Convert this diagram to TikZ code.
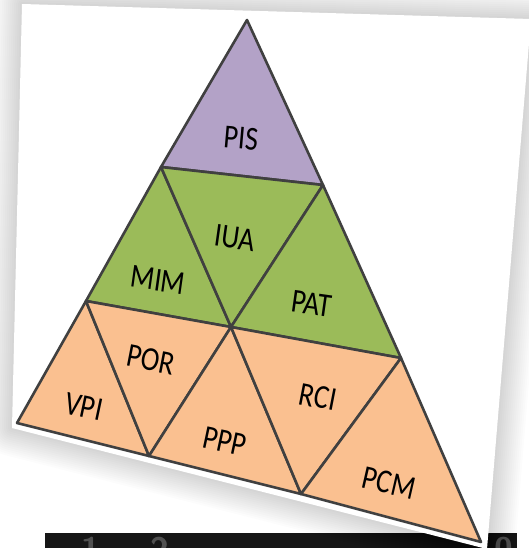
\documentclass[tikz,border=0pt]{standalone}
\usepackage{fontspec}
\setmainfont{Carlito}
\definecolor{lpurple}{HTML}{B3A2C7}
\definecolor{lgreen}{HTML}{9BBB59}
\definecolor{lorange}{HTML}{FAC090}
\definecolor{edgegray}{HTML}{404040}
\definecolor{barblack}{HTML}{161616}
\definecolor{digitgray}{HTML}{505050}
\begin{document}
\begin{tikzpicture}[x=1pt,y=-1pt,
  cell/.style={draw=edgegray,line width=2.6pt,line join=round},
  lbl/.style={font=\fontsize{28}{32}\selectfont,text=black,inner sep=0pt},
  digit/.style={font=\sffamily\bfseries\fontsize{34}{34}\selectfont,text=digitgray,inner sep=0pt,anchor=north}]
\useasboundingbox (0,0) rectangle (529,548);
\fill[white] (0,0) rectangle (529,548);
% black bar behind the sheet
\fill[barblack] (45,533) rectangle (517,548);
\begin{scope}
  \clip (45,533) rectangle (517,548);
  \node[digit] (d1) at (91,537) {1};
  \node[digit] (d2) at (160,537) {2};
  \node[digit] (d0) at (504,537) {0};
\end{scope}
% soft shadow of the sheet
\foreach \w in {4,8,...,56}{
  \draw[black,opacity=0.011,line width=\w pt,line join=round]
    (22,4) -- (531,19) -- (487,549) -- (12,428) -- cycle;
}
% sheet
\fill[white] (22,4) -- (531,19) -- (487,549) -- (12,428) -- cycle;
% triangle points
\coordinate (A)  at (247,20);
\coordinate (L1) at (161,167);
\coordinate (R1) at (323,185);
\coordinate (L2) at (86,301);
\coordinate (M2) at (231,327);
\coordinate (R2) at (401,358);
\coordinate (L3) at (17,423);
\coordinate (B1) at (149,456);
\coordinate (B2) at (301,494);
\coordinate (R3) at (481,542);
% cells
\filldraw[cell,fill=lpurple] (A) -- (L1) -- (R1) -- cycle;
\filldraw[cell,fill=lgreen] (L1) -- (L2) -- (M2) -- cycle;
\filldraw[cell,fill=lgreen] (L1) -- (R1) -- (M2) -- cycle;
\filldraw[cell,fill=lgreen] (R1) -- (M2) -- (R2) -- cycle;
\filldraw[cell,fill=lorange] (L2) -- (L3) -- (B1) -- cycle;
\filldraw[cell,fill=lorange] (L2) -- (M2) -- (B1) -- cycle;
\filldraw[cell,fill=lorange] (M2) -- (B1) -- (B2) -- cycle;
\filldraw[cell,fill=lorange] (M2) -- (R2) -- (B2) -- cycle;
\filldraw[cell,fill=lorange] (R2) -- (B2) -- (R3) -- cycle;
% labels
\node[lbl,rotate=-5]  (pis) at (241,138) {\scalebox{1}[1.2]{PIS}};
\node[lbl,rotate=-8]  (iua) at (235,238) {\scalebox{1}[1.2]{IUA}};
\node[lbl,rotate=-8]  (mim) at (158,280) {\scalebox{1}[1.2]{MIM}};
\node[lbl,rotate=-8]  (pat) at (312,304) {\scalebox{1}[1.2]{PAT}};
\node[lbl,rotate=-11] (por) at (151,360) {\scalebox{1}[1.2]{POR}};
\node[lbl,rotate=-12] (vpi) at (84,407)  {\scalebox{1}[1.2]{VPI}};
\node[lbl,rotate=-11] (rci) at (318,397) {\scalebox{1}[1.2]{RCI}};
\node[lbl,rotate=-12] (ppp) at (225,441) {\scalebox{1}[1.2]{PPP}};
\node[lbl,rotate=-13] (pcm) at (389,483) {\scalebox{1}[1.2]{PCM}};
\end{tikzpicture}
\end{document}
